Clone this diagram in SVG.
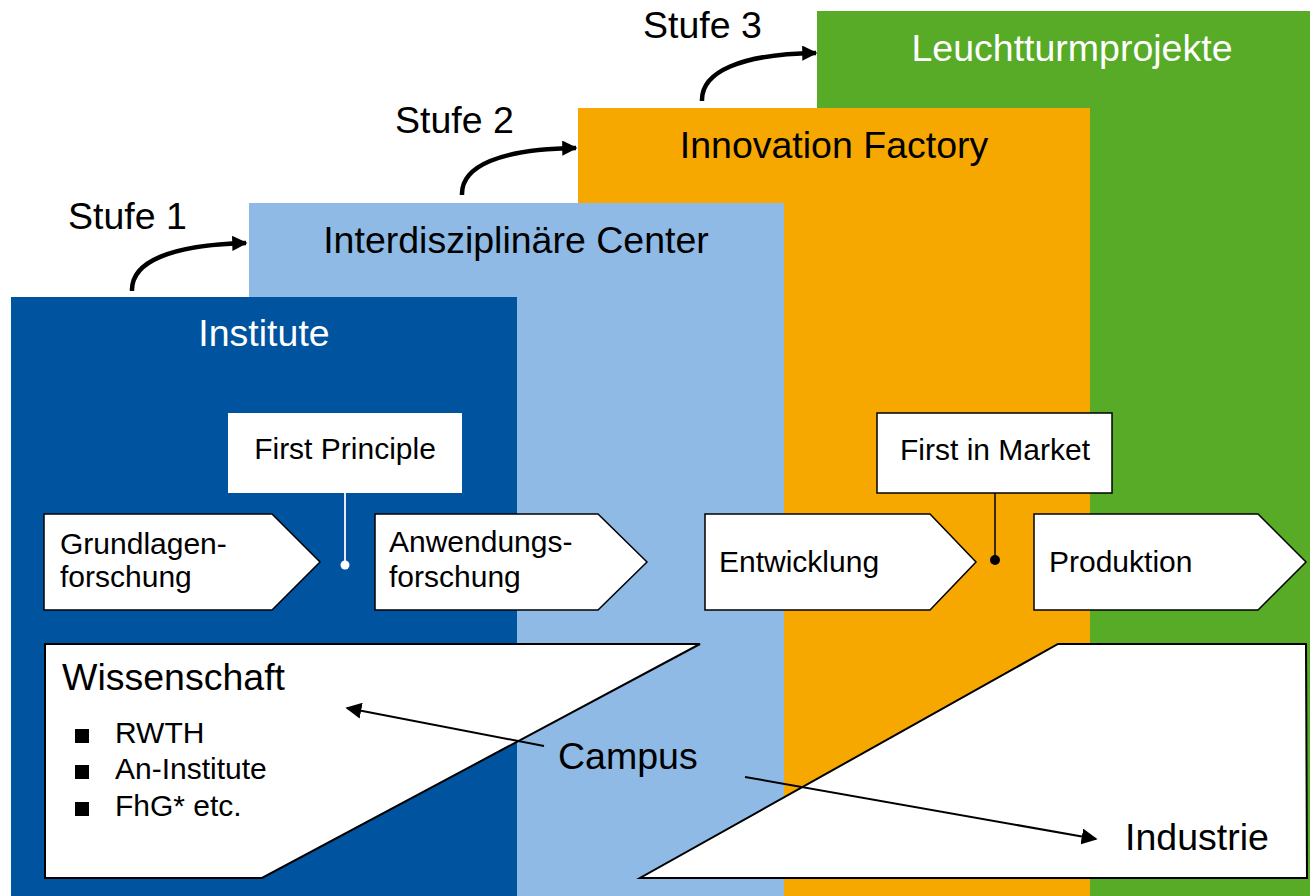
<svg xmlns="http://www.w3.org/2000/svg" width="1310" height="896" viewBox="0 0 1310 896">
<style>
  text { font-family: "Liberation Sans", Arial, sans-serif; }
  .big { font-size: 37.5px; }
  .mid { font-size: 30px; fill: #000; }
  .chev { fill: #fff; stroke: #000; stroke-width: 1.5; }
  .panel { fill: #fff; stroke: #000; stroke-width: 2; }
  .stufe { fill: none; stroke: #000; stroke-width: 4.5; }
  .link { fill: none; stroke: #000; stroke-width: 2; }
</style>
<defs>
  <marker id="ah" viewBox="0 0 10 10" refX="9" refY="5" markerWidth="3.4" markerHeight="3.4" orient="auto" markerUnits="strokeWidth">
    <path d="M0,0 L10,5 L0,10 z" fill="#000"/>
  </marker>
  <marker id="ah2" viewBox="0 0 10 10" refX="9" refY="5" markerWidth="8" markerHeight="8" orient="auto" markerUnits="strokeWidth">
    <path d="M0,0 L10,5 L0,10 z" fill="#000"/>
  </marker>
</defs>
<rect width="1310" height="896" fill="#fff"/>

<g id="leuchtturmprojekte">
  <rect x="817" y="11" width="493" height="885" fill="#57AB27"/>
  <text class="big" x="1072" y="61" text-anchor="middle" fill="#fff">Leuchtturmprojekte</text>
</g>
<g id="innovation-factory">
  <rect x="578" y="108" width="512" height="788" fill="#F6A800"/>
  <text class="big" x="834" y="158" text-anchor="middle" fill="#000">Innovation Factory</text>
</g>
<g id="interdisziplinaere-center">
  <rect x="249" y="203" width="535" height="693" fill="#8EBAE5"/>
  <text class="big" x="516" y="253" text-anchor="middle" fill="#000">Interdisziplinäre Center</text>
</g>
<g id="institute">
  <rect x="11" y="297" width="506" height="599" fill="#00549F"/>
  <text class="big" x="264" y="346" text-anchor="middle" fill="#fff">Institute</text>
</g>

<g id="stufe-labels">
  <text class="big" x="68" y="229" fill="#000">Stufe 1</text>
  <text class="big" x="395" y="133" fill="#000">Stufe 2</text>
  <text class="big" x="643" y="38" fill="#000">Stufe 3</text>
</g>

<g id="first-principle">
  <rect x="228" y="413" width="234" height="80" fill="#fff"/>
  <text class="mid" x="345" y="459" text-anchor="middle">First Principle</text>
</g>
<g id="first-in-market">
  <rect x="877" y="413" width="235" height="80" fill="#fff" stroke="#000" stroke-width="1.5"/>
  <text class="mid" x="995" y="460" text-anchor="middle">First in Market</text>
</g>

<g id="grundlagenforschung">
  <polygon class="chev" points="44,514 272,514 320,562 272,610 44,610"/>
  <text class="mid" x="60" y="554">Grundlagen-</text>
  <text class="mid" x="60" y="587">forschung</text>
</g>
<g id="anwendungsforschung">
  <polygon class="chev" points="375,514 598,514 647,562 598,610 375,610"/>
  <text class="mid" x="389" y="552">Anwendungs-</text>
  <text class="mid" x="389" y="587">forschung</text>
</g>
<g id="entwicklung">
  <polygon class="chev" points="705,514 930,514 976,562 930,610 705,610"/>
  <text class="mid" x="719" y="572">Entwicklung</text>
</g>
<g id="produktion">
  <polygon class="chev" points="1034,514 1258,514 1306,562 1258,610 1034,610"/>
  <text class="mid" x="1049" y="572">Produktion</text>
</g>

<g id="wissenschaft">
  <polygon class="panel" points="45,644 700,644 262,878 45,878"/>
  <text class="big" x="62" y="690" fill="#000">Wissenschaft</text>
  <rect x="75" y="729" width="14" height="14" fill="#000"/>
  <rect x="75" y="765" width="14" height="14" fill="#000"/>
  <rect x="75" y="802" width="14" height="14" fill="#000"/>
  <text class="mid" x="115" y="743">RWTH</text>
  <text class="mid" x="115" y="779">An-Institute</text>
  <text class="mid" x="115" y="816">FhG* etc.</text>
</g>
<g id="industrie">
  <polygon class="panel" points="1058,644 1306,644 1307,878 640,878"/>
  <text class="big" x="1125" y="850" fill="#000">Industrie</text>
</g>
<g id="campus">
  <text class="big" x="558" y="769" fill="#000">Campus</text>
</g>

<g id="connectors">
  <path class="stufe" d="M132,291 C131,262 170,245 246,243" marker-end="url(#ah)"/>
  <path class="stufe" d="M462,195 C461,166 500,149 576,148" marker-end="url(#ah)"/>
  <path class="stufe" d="M702,101 C701,72 740,54 816,53" marker-end="url(#ah)"/>
  <line x1="345" y1="493" x2="345" y2="565" stroke="#e8e8e8" stroke-width="2"/>
  <circle cx="345" cy="565" r="4.5" fill="#fff"/>
  <line x1="995" y1="493" x2="995" y2="560" stroke="#000" stroke-width="1.5"/>
  <circle cx="995" cy="560" r="5" fill="#000"/>
  <line class="link" x1="544" y1="746" x2="347" y2="708" marker-end="url(#ah2)"/>
  <line class="link" x1="745" y1="777" x2="1096" y2="839" marker-end="url(#ah2)"/>
</g>
</svg>
